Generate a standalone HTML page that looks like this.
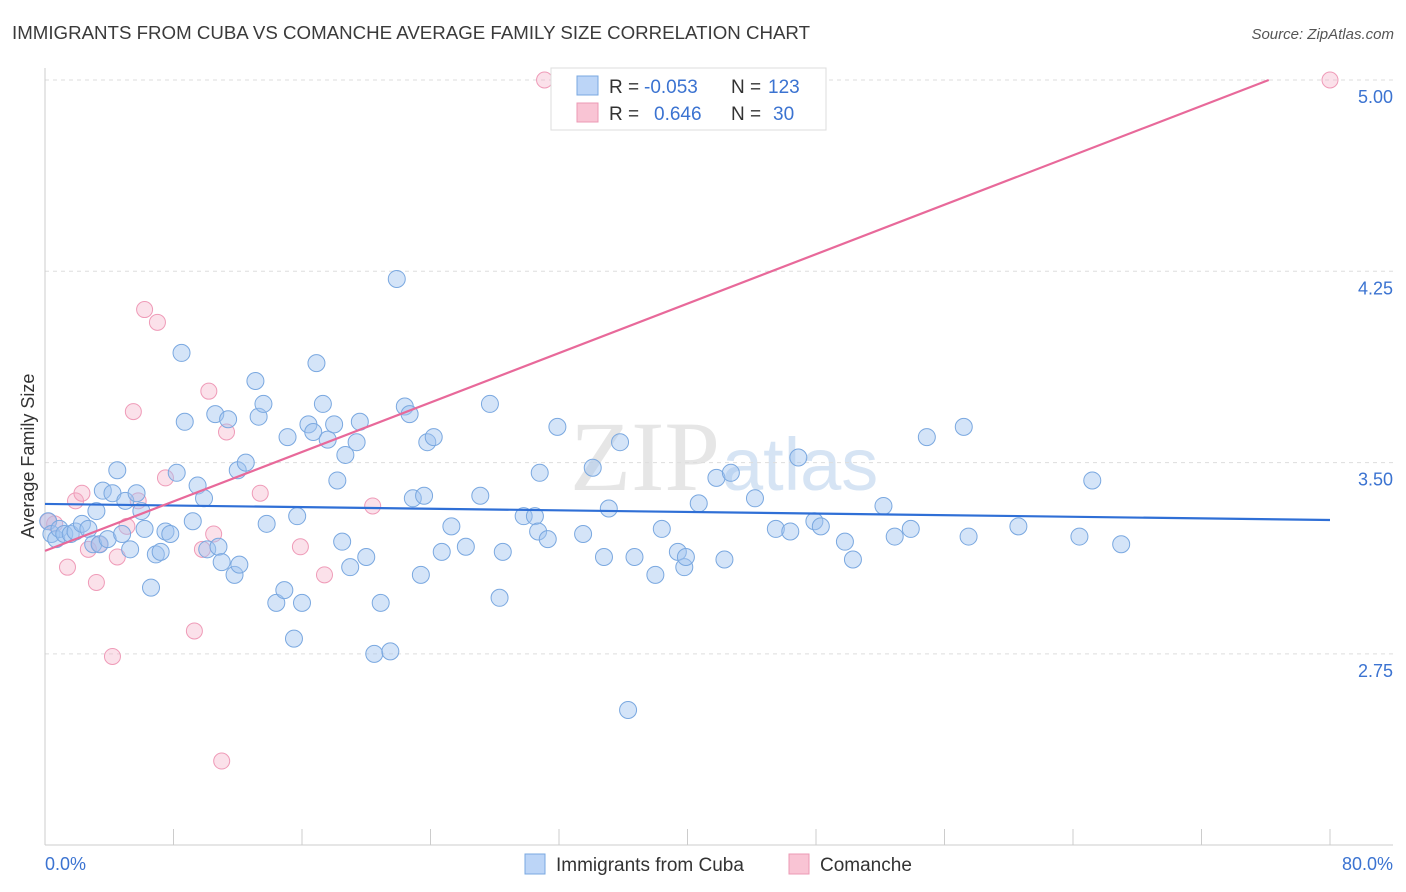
<!DOCTYPE html>
<html><head><meta charset="utf-8">
<style>
body{margin:0;background:#fff;font-family:"Liberation Sans",sans-serif;}
svg{display:block}
</style></head>
<body>
<svg id="chart" width="1406" height="892">
<text x="12" y="39" font-size="18" fill="#3a3a3a" textLength="798" lengthAdjust="spacingAndGlyphs">IMMIGRANTS FROM CUBA VS COMANCHE AVERAGE FAMILY SIZE CORRELATION CHART</text>
<text x="1394" y="39" font-size="15" fill="#555" font-style="italic" text-anchor="end">Source: ZipAtlas.com</text>
<text x="720" y="490" font-size="100" fill="#e6e6e6" text-anchor="end" font-family="Liberation Serif">ZIP</text>
<text x="722" y="490" font-size="74" fill="#d6e4f4">atlas</text>
<g id="grid"></g>
<g id="axes"></g>
<g id="marks"></g>
<text x="34" y="456" font-size="18" fill="#333" text-anchor="middle" transform="rotate(-90 34 456)">Average Family Size</text>
<text x="45" y="870" font-size="18" fill="#3b73d1">0.0%</text>
<text x="1393" y="870" font-size="18" fill="#3b73d1" text-anchor="end">80.0%</text>
<g>
<rect x="551" y="68" width="275" height="62" fill="#fff" stroke="#ddd"/>
<rect x="577" y="76" width="21" height="19" fill="#bcd5f7" stroke="#7aa8e0"/>
<rect x="577" y="103" width="21" height="19" fill="#f9c4d4" stroke="#ec9ab5"/>
<text x="609" y="93" font-size="19" fill="#333">R = <tspan fill="#3b73d1" x="644">-0.053</tspan></text>
<text x="731" y="93" font-size="19" fill="#333">N = <tspan fill="#3b73d1" x="768">123</tspan></text>
<text x="609" y="120" font-size="19" fill="#333">R = <tspan fill="#3b73d1" x="654">0.646</tspan></text>
<text x="731" y="120" font-size="19" fill="#333">N = <tspan fill="#3b73d1" x="773">30</tspan></text>
</g>
<g>
<rect x="525" y="854" width="20" height="20" fill="#bcd5f7" stroke="#7aa8e0"/>
<text x="556" y="871" font-size="19" fill="#333">Immigrants from Cuba</text>
<rect x="789" y="854" width="20" height="20" fill="#f9c4d4" stroke="#ec9ab5"/>
<text x="820" y="871" font-size="19" fill="#333">Comanche</text>
</g>
</svg>
<script>
const yTicks=[5.00,4.25,3.50,2.75];
const yTickLabels=["5.00","4.25","3.50","2.75"];
const xTicks=[0,8,16,24,32,40,48,56,64,72,80];
const cubaX=[0.2,0.4,0.7,0.9,1.2,1.6,1.9,2.3,2.7,3.0,3.2,3.4,3.6,3.9,4.2,4.5,4.8,5.0,5.3,5.7,6.0,6.2,6.6,6.9,7.2,7.5,7.8,8.2,8.5,8.7,9.2,9.5,9.9,10.1,10.6,10.8,11.0,11.4,11.8,12.0,12.1,12.5,13.1,13.3,13.6,13.8,14.4,14.9,15.1,15.5,15.7,16.0,16.4,16.7,16.9,17.3,17.6,18.0,18.2,18.5,18.7,19.0,19.4,19.6,20.0,20.5,20.9,21.5,21.9,22.4,22.7,22.9,23.4,23.6,23.8,24.2,24.7,25.3,26.2,27.1,27.7,28.3,28.5,29.8,30.5,30.7,30.8,31.3,31.9,33.5,34.1,34.8,35.1,35.8,36.3,36.7,38.0,38.4,39.4,39.8,39.9,40.7,41.8,42.3,42.7,44.2,45.5,46.4,46.9,47.9,48.3,49.8,50.3,52.2,52.9,53.9,54.9,57.2,57.5,60.6,64.4,65.2,67.0];
const cubaY=[3.27,3.22,3.20,3.24,3.22,3.22,3.23,3.26,3.24,3.18,3.31,3.18,3.39,3.20,3.38,3.47,3.22,3.35,3.16,3.38,3.31,3.24,3.01,3.14,3.15,3.23,3.22,3.46,3.93,3.66,3.27,3.41,3.36,3.16,3.69,3.17,3.11,3.67,3.06,3.47,3.10,3.50,3.82,3.68,3.73,3.26,2.95,3.00,3.60,2.81,3.29,2.95,3.65,3.62,3.89,3.73,3.59,3.65,3.43,3.19,3.53,3.09,3.58,3.66,3.13,2.75,2.95,2.76,4.22,3.72,3.69,3.36,3.06,3.37,3.58,3.60,3.15,3.25,3.17,3.37,3.73,2.97,3.15,3.29,3.29,3.23,3.46,3.20,3.64,3.22,3.48,3.13,3.32,3.58,2.53,3.13,3.06,3.24,3.15,3.09,3.13,3.34,3.44,3.12,3.46,3.36,3.24,3.23,3.52,3.27,3.25,3.19,3.12,3.33,3.21,3.24,3.60,3.64,3.21,3.25,3.21,3.43,3.18];
const comX=[0.2,0.6,1.4,1.9,2.3,2.7,3.2,3.4,4.2,4.5,5.1,5.5,5.8,6.2,7.0,7.5,9.3,9.8,10.2,10.5,11.0,11.3,13.4,15.9,17.4,20.4,31.1,80.0];
const comY=[3.27,3.26,3.09,3.35,3.38,3.16,3.03,3.18,2.74,3.13,3.25,3.70,3.35,4.10,4.05,3.44,2.84,3.16,3.78,3.22,2.33,3.62,3.38,3.17,3.06,3.33,5.00,5.00];
const cubaTrend=[3.338,3.275];
const comTrend=[3.154,0.02423];

const NS="http://www.w3.org/2000/svg";
const X0=45,X1=1330,Ytop=80,Ybot=845;
function sx(v){return X0+(v/80)*(X1-X0);}
function sy(v){return Ytop+(5-v)/0.75*191.3;}
function mk(tag,attrs,parent){const e=document.createElementNS(NS,tag);for(const k in attrs)e.setAttribute(k,attrs[k]);parent.appendChild(e);return e;}
const grid=document.getElementById('grid'),axes=document.getElementById('axes'),marks=document.getElementById('marks');
yTicks.forEach((t,i)=>{
  const l=mk('line',{x1:X0,x2:1393,y1:sy(t),y2:sy(t),stroke:'#ddd','stroke-dasharray':'4,4'},grid);
  
  
  const tx=mk('text',{x:1393,y:sy(t)+23,'font-size':18,fill:'#3b73d1','text-anchor':'end'},grid);
  tx.textContent=yTickLabels[i];
  
  
});
const ya=mk('line',{x1:X0,x2:X0,y1:68,y2:Ybot,stroke:'#ccc'},axes);


const xa=mk('line',{x1:X0,x2:1393,y1:Ybot,y2:Ybot,stroke:'#ccc'},axes);


xTicks.forEach(t=>{
  const l=mk('line',{x1:sx(t),x2:sx(t),y1:829,y2:Ybot,stroke:'#ccc'},axes);
  
  
});
comX.forEach((x,i)=>{
  const c=mk('circle',{cx:sx(x),cy:sy(comY[i]),r:8,fill:'rgba(244,170,195,0.35)',stroke:'#ef9bb8','stroke-width':1},marks);
  
  
});
cubaX.forEach((x,i)=>{
  const c=mk('circle',{cx:sx(x),cy:sy(cubaY[i]),r:8.5,fill:'rgba(160,195,240,0.45)',stroke:'#7aa8e0','stroke-width':1},marks);
  
  
});
const bl=mk('line',{x1:sx(0),y1:sy(cubaTrend[0]),x2:sx(80),y2:sy(cubaTrend[1]),stroke:'#2f6fd6','stroke-width':2.2},marks);


const xEnd=(5-comTrend[0])/comTrend[1];
const pl=mk('line',{x1:sx(0),y1:sy(comTrend[0]),x2:sx(xEnd),y2:sy(5),stroke:'#e8699a','stroke-width':2.2},marks);


</script>
</body></html>
